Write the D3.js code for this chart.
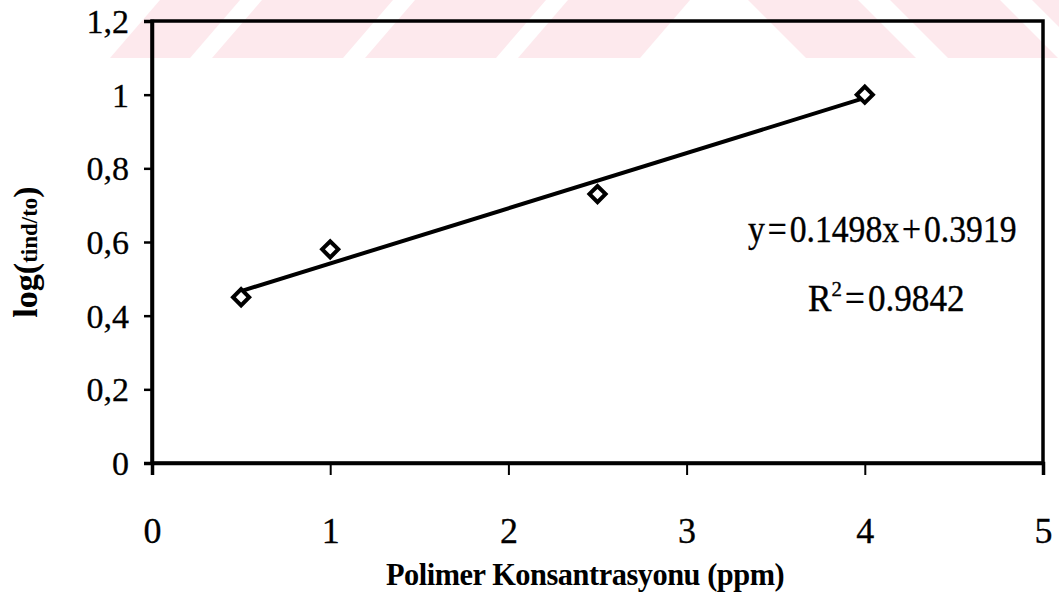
<!DOCTYPE html>
<html>
<head>
<meta charset="utf-8">
<script src="https://cdn.jsdelivr.net/npm/d3@7"></script>
<style>
  html, body { margin: 0; padding: 0; background: #ffffff; }
  svg { display: block; }
  text { font-family: "Liberation Serif", "Times New Roman", serif; fill: #000; }
</style>
</head>
<body>
<svg id="chart" width="1059" height="594"></svg>
<script>
// Measured induction-time ratio against polymer concentration
const concentrations = [0.5, 1, 2.5, 4];
const logRatios = [0.45, 0.58, 0.73, 1.0];

// Linear fit reported on the chart
const fitSlope = 0.1498;
const fitIntercept = 0.3919;
const fitR2 = 0.9842;

const xTicks = [0, 1, 2, 3, 4, 5];
const xTickLabels = ["0", "1", "2", "3", "4", "5"];
const yTicks = [0, 0.2, 0.4, 0.6, 0.8, 1, 1.2];
const yTickLabels = ["0", "0,2", "0,4", "0,6", "0,8", "1", "1,2"];

const svg = d3.select("#chart");

// Pale diagonal band pattern across the top of the figure
const bandColor = "#fde9ed";
const band = svg.append("g").attr("class", "band");
const bandTop = 0, bandBottom = 58;
// left group slants up to the right
[[110, 190], [212, 343], [365, 496], [518, 640]].forEach(([a, b]) => {
  band.append("polygon")
    .attr("points", `${a},${bandBottom} ${b},${bandBottom} ${b + 50},${bandTop} ${a + 50},${bandTop}`)
    .style("fill", bandColor);
});
// right group slants up to the left
[[748, 858], [890, 1000], [1032, 1142]].forEach(([a, b]) => {
  band.append("polygon")
    .attr("points", `${a},${bandTop} ${b},${bandTop} ${b + 58},${bandBottom} ${a + 58},${bandBottom}`)
    .style("fill", bandColor);
});

const x = d3.scaleLinear().domain([0, 5]).range([152, 1043]);
const y = d3.scaleLinear().domain([0, 1.2]).range([463, 21]);

// Plot frame
svg.append("rect")
  .attr("x", x(0)).attr("y", y(1.2))
  .attr("width", x(5) - x(0)).attr("height", y(0) - y(1.2))
  .attr("fill", "none").attr("stroke", "#000").attr("stroke-width", 3.5);

// Y axis
const yAxis = svg.append("g")
  .attr("transform", `translate(${x(0)},0)`)
  .call(d3.axisLeft(y).tickValues(yTicks)
    .tickFormat((d, i) => yTickLabels[i]).tickSize(8).tickPadding(15));
yAxis.select(".domain").attr("stroke-width", 3.5);
yAxis.selectAll(".tick line").attr("stroke-width", 2.5);
yAxis.selectAll(".tick text")
  .style("font-family", "'Liberation Serif', serif")
  .style("font-size", "34px")
  .style("stroke", "#000").style("stroke-width", 0.3)
  .attr("dy", "0.34em");

// X axis
const xAxis = svg.append("g")
  .attr("transform", `translate(0,${y(0)})`)
  .call(d3.axisBottom(x).tickValues(xTicks)
    .tickFormat((d, i) => xTickLabels[i]).tickSize(12).tickPadding(42));
xAxis.select(".domain").attr("stroke-width", 3.5);
xAxis.selectAll(".tick line").attr("stroke-width", 2);
xAxis.selectAll(".tick text")
  .style("font-family", "'Liberation Serif', serif")
  .style("font-size", "36px")
  .style("stroke", "#000").style("stroke-width", 0.3);

// Trend line over the measured range
const fitX = d3.extent(concentrations);
svg.append("line")
  .attr("x1", x(fitX[0])).attr("y1", y(fitSlope * fitX[0] + fitIntercept))
  .attr("x2", x(fitX[1])).attr("y2", y(fitSlope * fitX[1] + fitIntercept))
  .attr("stroke", "#000").attr("stroke-width", 4);

// Hollow diamond markers
const diamond = d3.symbol().type(d3.symbolSquare).size(130);
svg.append("g").selectAll("path")
  .data(concentrations.map((c, i) => [c, logRatios[i]]))
  .join("path")
  .attr("d", diamond)
  .attr("transform", d => `translate(${x(d[0])},${y(d[1])}) rotate(45)`)
  .attr("fill", "#fff").attr("stroke", "#000").attr("stroke-width", 4);

// Fit equation and coefficient of determination (narrowed serif)
svg.append("text")
  .attr("transform", "translate(748,242) scale(0.91,1)")
  .style("font-size", "37px").style("word-spacing", "-6px")
  .style("stroke", "#000").style("stroke-width", 0.4)
  .text(`y = ${fitSlope}x + ${fitIntercept}`);

const r2 = svg.append("text")
  .attr("transform", "translate(808,311) scale(0.95,1)")
  .style("font-size", "37px").style("word-spacing", "-6px")
  .style("stroke", "#000").style("stroke-width", 0.4);
r2.append("tspan").text("R");
r2.append("tspan").attr("dy", -15).style("font-size", "22px").text("2");
r2.append("tspan").attr("dy", 15).text(` = ${fitR2}`);

// Axis titles
svg.append("text")
  .attr("transform", "translate(386,585) scale(0.95,1)")
  .style("font-size", "32px").style("font-weight", "bold")
  .style("letter-spacing", "-0.5px")
  .text("Polimer Konsantrasyonu (ppm)");

const yTitle = svg.append("text")
  .attr("transform", "translate(37,252) rotate(-90)")
  .attr("text-anchor", "middle")
  .style("font-weight", "bold").style("font-size", "34px");
yTitle.append("tspan").text("log(");
yTitle.append("tspan").style("font-size", "23px").text("tind/to");
yTitle.append("tspan").text(")");
</script>
</body>
</html>
